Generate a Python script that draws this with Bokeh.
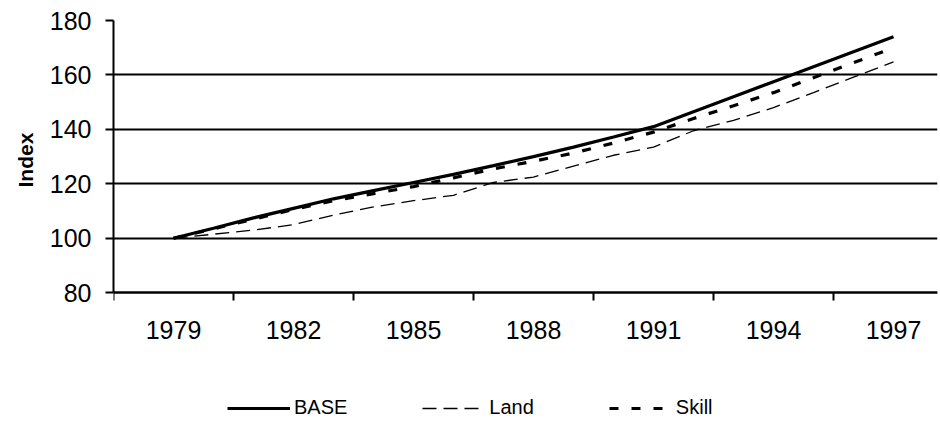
from bokeh.plotting import figure
from bokeh.models import FixedTicker, Legend, LegendItem, Range1d, Title
from bokeh.embed import file_html
from bokeh.resources import INLINE

years = list(range(1979, 1998))
base = [100, 103.7, 107.5, 111, 114.5, 117.5, 120.5, 123.5, 126.7, 130,
        133.5, 137.2, 141, 146.5, 152, 157.5, 163, 168.5, 174]
land = [100, 101.5, 103, 105, 108.5, 111.5, 113.8, 115.8, 120.5, 122.5,
        126.5, 130.5, 133.5, 139.5, 143.3, 148, 153.5, 159.2, 164.8]
skill = [100, 103.5, 107, 110.6, 113.8, 116.4, 119, 122.2, 125.5, 128.3,
         131.3, 135, 139, 144, 148.7, 153.5, 159, 164.5, 170]

label_years = [1979, 1982, 1985, 1988, 1991, 1994, 1997]
tick_bounds = [1977.5, 1980.5, 1983.5, 1986.5, 1989.5, 1992.5, 1995.5]
y_ticks = [80, 100, 120, 140, 160, 180]
y_min, y_max = 80, 180

FONT = "Liberation Sans"

# frame spans down to the bottom of the page; the x axis sits at y = 80
p = figure(width=940, height=421, output_backend="svg", toolbar_location=None,
           x_range=Range1d(1977.5, 1998.1), y_range=Range1d(32.7, y_max),
           min_border_left=113, min_border_right=3, min_border_top=20,
           min_border_bottom=0)
p.outline_line_color = None
p.background_fill_color = "white"
p.border_fill_color = "white"

# x axis
xa = p.xaxis[0]
xa.fixed_location = y_min
xa.ticker = FixedTicker(ticks=label_years, minor_ticks=tick_bounds)
xa.major_label_overrides = {y: str(y) for y in label_years}
xa.major_tick_out = 0
xa.major_tick_in = 0
xa.minor_tick_out = 8
xa.minor_tick_in = 0
xa.minor_tick_line_color = "black"
xa.minor_tick_line_width = 2
xa.axis_line_width = 2
xa.axis_line_color = "black"
xa.major_label_standoff = 20
xa.major_label_text_font = FONT
xa.major_label_text_font_size = "25px"
xa.major_label_text_color = "black"

# y axis
ya = p.yaxis[0]
ya.bounds = (y_min, y_max)
ya.ticker = FixedTicker(ticks=y_ticks)
ya.major_tick_out = 8
ya.major_tick_in = 0
ya.major_tick_line_width = 2
ya.minor_tick_out = 0
ya.minor_tick_in = 0
ya.axis_line_width = 2
ya.axis_line_color = "black"
ya.major_label_standoff = 14
ya.major_label_text_font = FONT
ya.major_label_text_font_size = "25px"
ya.major_label_text_color = "black"

# y axis title, centred on the 80-180 span
ytitle = Title(text="Index", align="left", offset=234, standoff=20,
               text_font=FONT, text_font_style="bold", text_font_size="21px",
               text_color="black")
p.add_layout(ytitle, "left")

p.xgrid.visible = False
p.ygrid.ticker = FixedTicker(ticks=y_ticks)
p.ygrid.grid_line_color = "black"
p.ygrid.grid_line_width = 2

r_base = p.line(years, base, line_color="black", line_width=3.2)
r_land = p.line(years, land, line_color="black", line_width=1.3, line_dash="14 7")
r_skill = p.line(years, skill, line_color="black", line_width=3.2, line_dash="9 13")

legend = Legend(items=[LegendItem(label="BASE", renderers=[r_base]),
                       LegendItem(label="Land", renderers=[r_land]),
                       LegendItem(label="Skill", renderers=[r_skill])],
                orientation="horizontal", location=(114, 2),
                spacing=75, glyph_width=63, glyph_height=20, label_standoff=4,
                padding=0, margin=0, border_line_color=None,
                background_fill_alpha=0,
                label_text_font=FONT, label_text_font_size="20px",
                label_text_color="black")
p.add_layout(legend, "center")

open("out.html", "w").write(file_html(p, INLINE))
